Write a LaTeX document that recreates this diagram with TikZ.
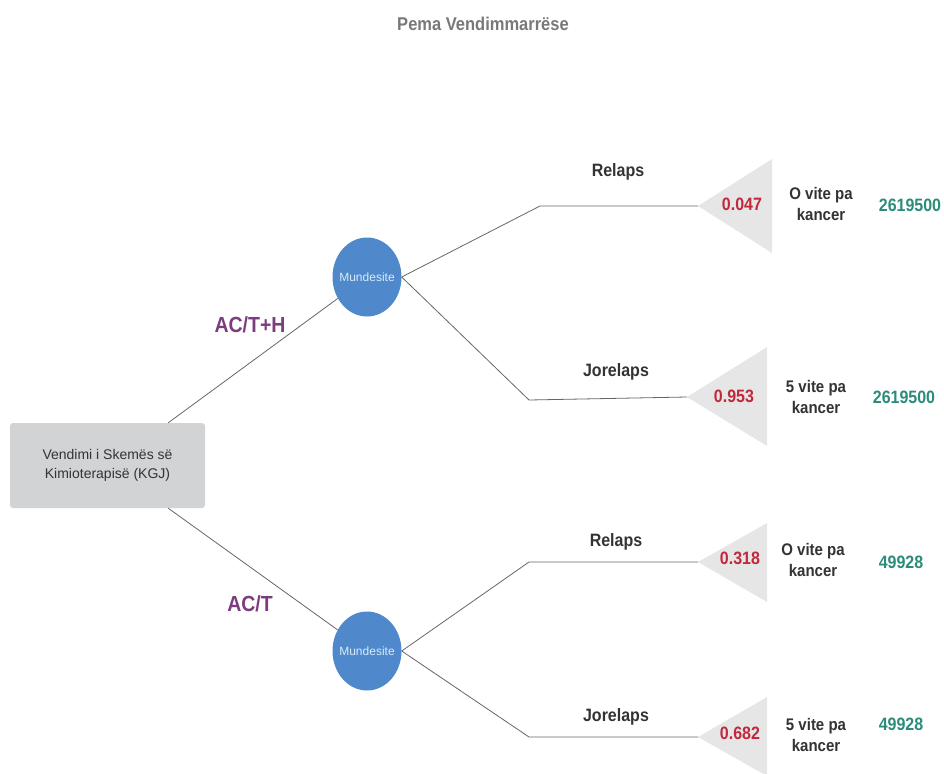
\documentclass[tikz,border=0pt]{standalone}
\usepackage{fontspec}
\setmainfont{Liberation Sans}
\usetikzlibrary{shapes.geometric}

\definecolor{boxgray}{HTML}{D1D3D4}
\definecolor{trigray}{HTML}{E6E6E6}
\definecolor{chanceblue}{HTML}{5088CC}
\definecolor{linegray}{HTML}{666666}
\definecolor{txtdark}{HTML}{333333}
\definecolor{titlegray}{HTML}{787878}
\definecolor{probred}{HTML}{C2283C}
\definecolor{paygreen}{HTML}{2B8C7A}
\definecolor{treatpurple}{HTML}{7B3D7D}
\definecolor{chancetxt}{HTML}{D6ECFA}

\newcommand{\chancetext}{\makebox[0pt]{Mundesite}}

\begin{document}
\begin{tikzpicture}[x=1pt, y=-1pt,
    tall/.style={yscale=1.12},
    decbox/.style={rectangle, rounded corners=3pt, fill=boxgray, text=txtdark,
      minimum width=195pt, minimum height=85pt, align=center,
      font=\fontsize{14}{19}\selectfont},
    chance/.style={ellipse, fill=chanceblue, minimum width=69pt, minimum height=79pt,
      inner sep=0pt, text=chancetxt, font=\fontsize{12}{14}\selectfont},
    branch/.style={draw=linegray, line width=0.8pt},
    tri/.style={fill=trigray},
    eventlbl/.style={tall, text=txtdark, font=\fontsize{16}{19}\selectfont\bfseries},
    prob/.style={tall, text=probred, font=\fontsize{16}{19}\selectfont\bfseries},
    outcome/.style={tall, text=txtdark, align=center, font=\fontsize{15}{19}\selectfont\bfseries},
    payoff/.style={tall, text=paygreen, font=\fontsize{16}{19}\selectfont\bfseries},
    treat/.style={tall, text=treatpurple, font=\fontsize{19.5}{24}\selectfont\bfseries}]
  \useasboundingbox (0,0) rectangle (944,773);

  % Title
  \node[tall, text=titlegray, font=\fontsize{16.5}{19}\selectfont\bfseries] (title) at (483,24) {Pema Vendimmarrëse};

  % Decision node
  \node[decbox] (dec) at (107.5,465.5) {Vendimi i Skemës së\\Kimioterapisë (KGJ)};

  % Chance nodes
  \node[chance] (c1) at (367,277) {\chancetext};
  \node[chance] (c2) at (367,651) {\chancetext};

  % Treatment branches
  \draw[branch] (dec.north east) ++(-37,0) -- (c1);
  \draw[branch] (dec.south east) ++(-37,0) -- (c2);
  \node[treat] (acth) at (250,325) {AC/T+H};
  \node[treat] (act) at (250,604) {AC/T};

  % Kinks and terminal tips
  \coordinate (k1) at (540,206);
  \coordinate (k2) at (529,400);
  \coordinate (k3) at (529,562);
  \coordinate (k4) at (529,737);
  \coordinate (t1) at (698,206);
  \coordinate (t2) at (687,397);
  \coordinate (t3) at (698,562);
  \coordinate (t4) at (698,737);

  % Terminal triangles
  \fill[tri] (t1) -- (772,159) -- (772,253) -- cycle;
  \fill[tri] (t2) -- (767,347) -- (767,446) -- cycle;
  \fill[tri] (t3) -- (767,523) -- (767,602) -- cycle;
  \fill[tri] (t4) -- (767,697) -- (767,776) -- cycle;

  % Event branches
  \draw[branch] (c1.east) -- (k1) -- (t1);
  \draw[branch] (c1.east) -- (k2) -- (t2);
  \draw[branch] (c2.east) -- (k3) -- (t3);
  \draw[branch] (c2.east) -- (k4) -- (t4);

  \node[eventlbl] (r1) at (618,172) {Relaps};
  \node[eventlbl] (j1) at (616,372) {Jorelaps};
  \node[eventlbl] (r2) at (616,542) {Relaps};
  \node[eventlbl] (j2) at (616,717) {Jorelaps};

  % Probabilities
  \node[prob] (p1) at (742,204) {0.047};
  \node[prob] (p2) at (734,396) {0.953};
  \node[prob] (p3) at (740,558) {0.318};
  \node[prob] (p4) at (740,733) {0.682};

  % Outcomes
  \node[outcome] (o1) at (821,204) {O vite pa\\kancer};
  \node[outcome] (o2) at (816,397) {5 vite pa\\kancer};
  \node[outcome] (o3) at (813,560) {O vite pa\\kancer};
  \node[outcome] (o4) at (816,735) {5 vite pa\\kancer};

  % Payoffs
  \node[payoff] (v1) at (910,205) {2619500};
  \node[payoff] (v2) at (904,397) {2619500};
  \node[payoff] (v3) at (901,562) {49928};
  \node[payoff] (v4) at (901,724) {49928};
\end{tikzpicture}
\end{document}
